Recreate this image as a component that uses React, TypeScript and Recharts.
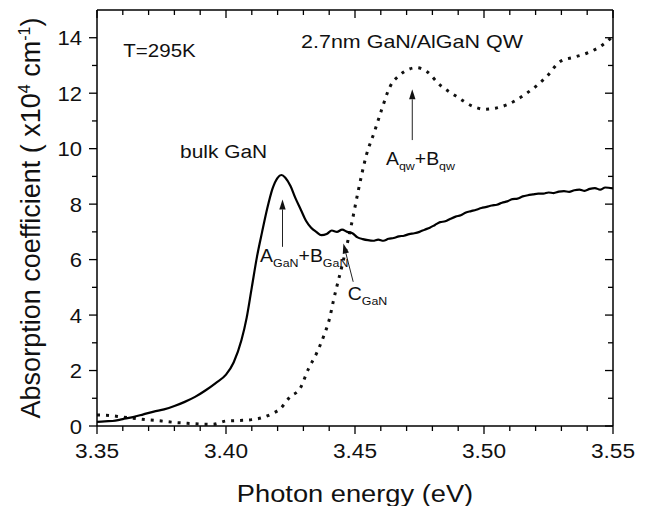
import React from 'react';
import { LineChart, Line, XAxis, YAxis, ReferenceLine, ReferenceDot } from 'recharts';

const FONT = '"Liberation Sans", Arial, Helvetica, sans-serif';

// bulk GaN (solid)
const bulkE = [
  3.350, 3.353, 3.356, 3.360, 3.364, 3.368, 3.372, 3.376, 3.380, 3.384, 3.388, 3.392, 3.396, 3.400,
  3.403, 3.406, 3.408, 3.410, 3.412, 3.414, 3.416, 3.418, 3.420, 3.4215, 3.423, 3.425, 3.427, 3.429,
  3.431, 3.433, 3.435, 3.437, 3.439, 3.441, 3.443, 3.445, 3.447, 3.449, 3.451, 3.453, 3.455, 3.457,
  3.459, 3.461, 3.463, 3.465, 3.467, 3.469, 3.471, 3.473, 3.475, 3.477, 3.479, 3.481, 3.483, 3.485,
  3.487, 3.489, 3.491, 3.493, 3.495, 3.497, 3.499, 3.501, 3.503, 3.505, 3.507, 3.509, 3.511, 3.513,
  3.515, 3.517, 3.519, 3.521, 3.523, 3.525, 3.527, 3.529, 3.531, 3.533, 3.535, 3.537, 3.539, 3.541,
  3.543, 3.545, 3.547, 3.550,
];
const bulkAbs = [
  0.15, 0.17, 0.18, 0.25, 0.32, 0.42, 0.52, 0.6, 0.72, 0.87, 1.05, 1.28, 1.55, 1.85,
  2.3, 3.1, 3.9, 5.0, 6.1, 7.0, 7.85, 8.55, 8.95, 9.05, 8.95, 8.65, 8.2, 7.8,
  7.4, 7.15, 7.0, 6.88, 6.92, 7.05, 7.0, 7.08, 7.0, 6.95, 6.8, 6.74, 6.7, 6.68,
  6.72, 6.68, 6.75, 6.78, 6.84, 6.86, 6.92, 6.95, 7.0, 7.08, 7.15, 7.25, 7.35, 7.38,
  7.47, 7.55, 7.6, 7.7, 7.75, 7.8, 7.86, 7.9, 7.95, 7.98, 8.05, 8.1, 8.18, 8.2,
  8.28, 8.32, 8.35, 8.38, 8.38, 8.42, 8.4, 8.45, 8.47, 8.44, 8.5, 8.52, 8.48, 8.55,
  8.58, 8.52, 8.6, 8.57,
];

// 2.7nm GaN/AlGaN QW (dotted)
const qwE = [
  3.350, 3.355, 3.360, 3.365, 3.370, 3.375, 3.380, 3.385, 3.390, 3.395, 3.400, 3.405, 3.410, 3.414,
  3.418, 3.421, 3.4248, 3.4287, 3.432, 3.435, 3.4377, 3.4403, 3.4416, 3.4455, 3.4487, 3.4513, 3.4545,
  3.4575, 3.4603, 3.4636, 3.4674, 3.4705, 3.4739, 3.4778, 3.4829, 3.4894, 3.4959, 3.5004, 3.5045,
  3.5088, 3.5166, 3.5243, 3.5295, 3.535, 3.5398, 3.545, 3.550,
];
const qwAbs = [
  0.4, 0.38, 0.32, 0.27, 0.22, 0.18, 0.13, 0.1, 0.07, 0.06, 0.18, 0.2, 0.23, 0.3,
  0.45, 0.62, 1.05, 1.35, 2.07, 2.6, 3.2, 3.94, 4.5, 5.98, 7.3, 8.5, 9.8,
  10.6, 11.4, 12.24, 12.66, 12.85, 12.92, 12.78, 12.3, 11.88, 11.52, 11.42, 11.46,
  11.58, 12.0, 12.6, 13.14, 13.3, 13.44, 13.68, 14.05,
];

const xTicks = [
  3.35, 3.36, 3.37, 3.38, 3.39, 3.40, 3.41, 3.42, 3.43, 3.44, 3.45,
  3.46, 3.47, 3.48, 3.49, 3.50, 3.51, 3.52, 3.53, 3.54, 3.55,
];
const xLabels = ['3.35', '3.40', '3.45', '3.50', '3.55'];
const yTicks = [0, 1, 2, 3, 4, 5, 6, 7, 8, 9, 10, 11, 12, 13, 14];
const yLabels = ['0', '2', '4', '6', '8', '10', '12', '14'];

const bulkData = bulkE.map((e, i) => ({ e, v: bulkAbs[i] }));
const qwData = qwE.map((e, i) => ({ e, v: qwAbs[i] }));

const xLabelOf = (v: number) => xLabels.find((l) => Math.abs(parseFloat(l) - v) < 1e-6);
const yLabelOf = (v: number) => yLabels.find((l) => Math.abs(parseFloat(l) - v) < 1e-6);

const BottomLabel = (props: any) => {
  const lab = xLabelOf(props.payload.value);
  if (!lab) return null;
  return (
    <text transform={`translate(${props.x},${props.y + 32}) scale(1.08,1)`} textAnchor="middle"
      fontSize={21} fontFamily={FONT} fill="#111">{lab}</text>
  );
};

const LeftLabel = (props: any) => {
  const lab = yLabelOf(props.payload.value);
  if (!lab) return null;
  return (
    <text transform={`translate(${props.x - 15},${props.y + 7.5}) scale(1.05,1)`} textAnchor="end"
      fontSize={21} fontFamily={FONT} fill="#111">{lab}</text>
  );
};

// tick marks: outward on bottom/left, inward on top/right
const xTickShape = (len: number) => (p: any) => {
  const yb = Math.max(p.y1, p.y2);
  const yt = Math.min(p.y1, p.y2);
  return (
    <g stroke="#000" strokeWidth={1.3}>
      <line x1={p.x1} x2={p.x1} y1={yb} y2={yb + len} />
      <line x1={p.x1} x2={p.x1} y1={yt} y2={yt + len} />
    </g>
  );
};

const yTickShape = (len: number) => (p: any) => {
  const xl = Math.min(p.x1, p.x2);
  const xr = Math.max(p.x1, p.x2);
  return (
    <g stroke="#000" strokeWidth={1.3}>
      <line x1={xl} x2={xl - len} y1={p.y1} y2={p.y1} />
      <line x1={xr} x2={xr - len} y1={p.y1} y2={p.y1} />
    </g>
  );
};

const Arrow = (props: any) => {
  const { x1, y1, x2, y2 } = props;
  const a = Math.atan2(y2 - y1, x2 - x1);
  const hl = 10;
  const hw = 3.2;
  const bx = x2 - hl * Math.cos(a);
  const by = y2 - hl * Math.sin(a);
  const px = -Math.sin(a) * hw;
  const py = Math.cos(a) * hw;
  return (
    <g>
      <line x1={x1} y1={y1} x2={bx} y2={by} stroke="#222" strokeWidth={1} />
      <polygon points={`${x2},${y2} ${bx + px},${by + py} ${bx - px},${by - py}`} fill="#111" />
    </g>
  );
};

type Part = { t: string; sub?: boolean };

const noteShape = (parts: Part[], size: number, sx: number) => (p: any) => (
  <text transform={`translate(${p.cx},${p.cy}) scale(${sx},1)`} fontFamily={FONT} fontSize={size} fill="#111">
    {parts.map((pt, i) => {
      const prevSub = i > 0 && parts[i - 1].sub;
      const dy = pt.sub ? 5 : prevSub ? -5 : 0;
      return (
        <tspan key={i} dy={dy} fontSize={pt.sub ? 11.5 : size}>{pt.t}</tspan>
      );
    })}
  </text>
);

const notes: { e: number; v: number; parts: Part[]; size: number; sx: number }[] = [
  { e: 3.3602, v: 13.32, parts: [{ t: 'T=295K' }], size: 19, sx: 1.08 },
  { e: 3.4291, v: 13.64, parts: [{ t: '2.7nm GaN/AlGaN QW' }], size: 19, sx: 1.13 },
  { e: 3.3822, v: 9.66, parts: [{ t: 'bulk GaN' }], size: 19, sx: 1.1 },
  { e: 3.4132, v: 5.92, parts: [{ t: 'A' }, { t: 'GaN', sub: true }, { t: '+B' }, { t: 'GaN', sub: true }], size: 18, sx: 1.08 },
  { e: 3.4472, v: 4.54, parts: [{ t: 'C' }, { t: 'GaN', sub: true }], size: 18, sx: 1.08 },
  { e: 3.462, v: 9.41, parts: [{ t: 'A' }, { t: 'qw', sub: true }, { t: '+B' }, { t: 'qw', sub: true }], size: 18, sx: 1.08 },
];

const arrows = [
  { from: { x: 3.4219, y: 6.46 }, to: { x: 3.4219, y: 8.17 } },
  { from: { x: 3.4493, y: 5.2 }, to: { x: 3.4455, y: 6.58 } },
  { from: { x: 3.4722, y: 10.31 }, to: { x: 3.4722, y: 12.14 } },
];

const XTitle = (props: any) => {
  const { x, y, width } = props.viewBox;
  return (
    <text transform={`translate(${x + width / 2},${y + 76}) scale(1.16,1)`} textAnchor="middle"
      fontSize={23.5} fontFamily={FONT} fill="#111">Photon energy (eV)</text>
  );
};

const YTitle = (props: any) => {
  const { y, height } = props.viewBox;
  return (
    <text transform={`translate(40,${y + height / 2}) rotate(-90)`} textAnchor="middle"
      fontSize={27} fontFamily={FONT} fill="#111">
      Absorption coefficient ( x10<tspan dy={-10} fontSize={16}>4</tspan>
      <tspan dy={10}> cm</tspan><tspan dy={-10} fontSize={16}>-1</tspan><tspan dy={10}>)</tspan>
    </text>
  );
};

const AXIS = { stroke: '#000', strokeWidth: 1.5 };

export default function App() {
  return (
    <div style={{ position: 'absolute', left: 0, top: 0, width: 648, height: 506, background: '#fff' }}>
      <LineChart width={648} height={506} margin={{ top: 10, right: 35, left: 0, bottom: 0 }}>
        <XAxis xAxisId="b" dataKey="e" type="number" domain={[3.35, 3.55]} ticks={xTicks} interval={0}
          allowDataOverflow height={80} tickSize={0} tickMargin={0} tickLine={false}
          axisLine={AXIS} tick={<BottomLabel />} label={<XTitle />} />
        <YAxis yAxisId="l" type="number" domain={[0, 15]} ticks={yTicks} interval={0} allowDataOverflow
          width={97} tickSize={0} tickMargin={0} tickLine={false}
          axisLine={AXIS} tick={<LeftLabel />} label={<YTitle />} />
        <ReferenceLine xAxisId="b" yAxisId="l" x={3.55} stroke="#000" strokeWidth={1.5} />
        <ReferenceLine xAxisId="b" yAxisId="l" y={15} stroke="#000" strokeWidth={1.5} />
        {xTicks.map((t) => (
          <ReferenceLine key={`xt-${t}`} xAxisId="b" yAxisId="l" x={t}
            shape={xTickShape(xLabelOf(t) ? 8 : 5)} />
        ))}
        {yTicks.map((t) => (
          <ReferenceLine key={`yt-${t}`} xAxisId="b" yAxisId="l" y={t}
            shape={yTickShape(yLabelOf(t) ? 8 : 5)} />
        ))}
        <Line xAxisId="b" yAxisId="l" data={qwData} dataKey="v" type="monotone" stroke="#111"
          strokeWidth={3} strokeDasharray="3 6" dot={false} activeDot={false} isAnimationActive={false} />
        <Line xAxisId="b" yAxisId="l" data={bulkData} dataKey="v" type="monotone" stroke="#000"
          strokeWidth={2.2} dot={false} activeDot={false} isAnimationActive={false} />
        {arrows.map((a, i) => (
          <ReferenceLine key={`arr-${i}`} xAxisId="b" yAxisId="l" segment={[a.from, a.to]} shape={Arrow} />
        ))}
        {notes.map((n, i) => (
          <ReferenceDot key={`note-${i}`} xAxisId="b" yAxisId="l" x={n.e} y={n.v} r={0}
            shape={noteShape(n.parts, n.size, n.sx)} />
        ))}
      </LineChart>
    </div>
  );
}
